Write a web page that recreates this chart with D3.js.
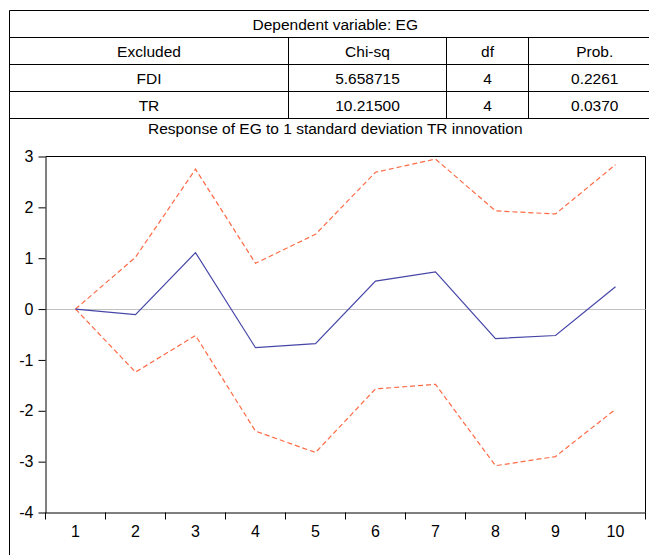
<!DOCTYPE html>
<html>
<head>
<meta charset="utf-8">
<script src="https://cdn.jsdelivr.net/npm/d3@7"></script>
<style>
  body { margin: 0; background: #fff; }
  text { font-family: "Liberation Sans", Arial, sans-serif; font-size: 15.5px; fill: #000; }
</style>
</head>
<body>
<div id="chart"></div>
<script>
// table data
const tableTitle = 'Dependent variable: EG';
const tableHeader = ['Excluded', 'Chi-sq', 'df', 'Prob.'];
const tableRows = [
  ['FDI', '5.658715', '4', '0.2261'],
  ['TR', '10.21500', '4', '0.0370']
];
const chartTitle = 'Response of EG to 1 standard deviation TR innovation';

// impulse response data
const periods = [1, 2, 3, 4, 5, 6, 7, 8, 9, 10];
const response = [0, -0.11, 1.11, -0.76, -0.68, 0.55, 0.73, -0.58, -0.52, 0.44];
const upperBand = [0, 1.02, 2.75, 0.90, 1.47, 2.69, 2.95, 1.93, 1.87, 2.84];
const lowerBand = [0, -1.24, -0.52, -2.40, -2.82, -1.57, -1.48, -3.08, -2.90, -1.97];
const yTicks = [-4, -3, -2, -1, 0, 1, 2, 3];

const W = 649, H = 555;
const svg = d3.select('#chart').append('svg')
  .attr('width', W).attr('height', H);

// ---- table ----
const colEdges = [9.5, 288.5, 446.5, 528.5, 661];
const rowTop = 9.5, rowH = 27.2;
const tbl = svg.append('g');
const nRows = 1 + 1 + tableRows.length;
const rowY = d3.range(nRows + 1).map(i => Math.round(rowTop + i * rowH) + 0.5);

rowY.forEach(y => {
  tbl.append('line').attr('x1', colEdges[0]).attr('x2', colEdges[4])
    .attr('y1', y).attr('y2', y).attr('stroke', '#000');
});
// outer vertical edges
tbl.append('line').attr('x1', colEdges[0]).attr('x2', colEdges[0])
  .attr('y1', rowY[0]).attr('y2', H).attr('stroke', '#000');
tbl.append('line').attr('x1', colEdges[4]).attr('x2', colEdges[4])
  .attr('y1', rowY[0]).attr('y2', H).attr('stroke', '#000');
// inner column separators
colEdges.slice(1, 4).forEach(x => {
  tbl.append('line').attr('x1', x).attr('x2', x)
    .attr('y1', rowY[1]).attr('y2', rowY[nRows]).attr('stroke', '#000');
});

const midX = (colEdges[0] + colEdges[4]) / 2;
tbl.append('text').attr('x', midX).attr('y', rowY[0] + 19)
  .attr('text-anchor', 'middle').text(tableTitle);

[tableHeader, ...tableRows].forEach((row, r) => {
  row.forEach((cell, c) => {
    tbl.append('text')
      .attr('x', (colEdges[c] + colEdges[c + 1]) / 2)
      .attr('y', rowY[r + 1] + 19)
      .attr('text-anchor', 'middle')
      .text(cell);
  });
});

tbl.append('text').attr('x', midX).attr('y', rowY[nRows] + 15)
  .attr('text-anchor', 'middle').text(chartTitle);

// ---- plot ----
const plot = {left: 45.5, right: 645.5, top: 156.5, bottom: 512.5};

const x = d3.scaleBand().domain(periods).range([plot.left, plot.right]);
const y = d3.scaleLinear().domain([-4, 3]).range([plot.bottom, plot.top]);
const cx = d => x(d) + x.bandwidth() / 2;

// frame top + right
svg.append('path')
  .attr('d', `M${plot.left},${plot.top}H${plot.right}V${plot.bottom}`)
  .attr('fill', 'none').attr('stroke', '#000');

// zero line
svg.append('line')
  .attr('x1', plot.left).attr('x2', plot.right)
  .attr('y1', Math.round(y(0)) + 0.5).attr('y2', Math.round(y(0)) + 0.5)
  .attr('stroke', '#c0c0c0');

// y axis (plain hyphen for negatives)
svg.append('g')
  .attr('transform', `translate(${plot.left},0)`)
  .call(d3.axisLeft(y).tickValues(yTicks).tickFormat(d => String(d))
    .tickSize(7).tickSizeOuter(0).tickPadding(5))
  .call(g => g.selectAll('text').style('font-size', '16px')
    .style('font-family', '"Liberation Sans", Arial, sans-serif'));

// x axis: labels centered, tick marks on band edges
const xAxis = svg.append('g')
  .attr('transform', `translate(0,${plot.bottom})`)
  .call(d3.axisBottom(x).tickSize(0).tickPadding(13))
  .call(g => g.selectAll('text').style('font-size', '16px')
    .style('font-family', '"Liberation Sans", Arial, sans-serif'));

xAxis.selectAll('.edge-tick')
  .data([...periods.map(p => x(p)), plot.right])
  .enter().append('line')
  .attr('class', 'edge-tick')
  .attr('x1', d => d).attr('x2', d => d)
  .attr('y1', 0).attr('y2', 7)
  .attr('stroke', '#000');

// lines
const line = d3.line().x((d, i) => cx(periods[i])).y(d => y(d));

svg.append('path').datum(upperBand)
  .attr('d', line).attr('fill', 'none')
  .attr('stroke', '#ff6a45').attr('stroke-width', 1.2)
  .attr('stroke-dasharray', '5,3');

svg.append('path').datum(lowerBand)
  .attr('d', line).attr('fill', 'none')
  .attr('stroke', '#ff6a45').attr('stroke-width', 1.2)
  .attr('stroke-dasharray', '5,3');

svg.append('path').datum(response)
  .attr('d', line).attr('fill', 'none')
  .attr('stroke', '#4646a8').attr('stroke-width', 1.2);
</script>
</body>
</html>
